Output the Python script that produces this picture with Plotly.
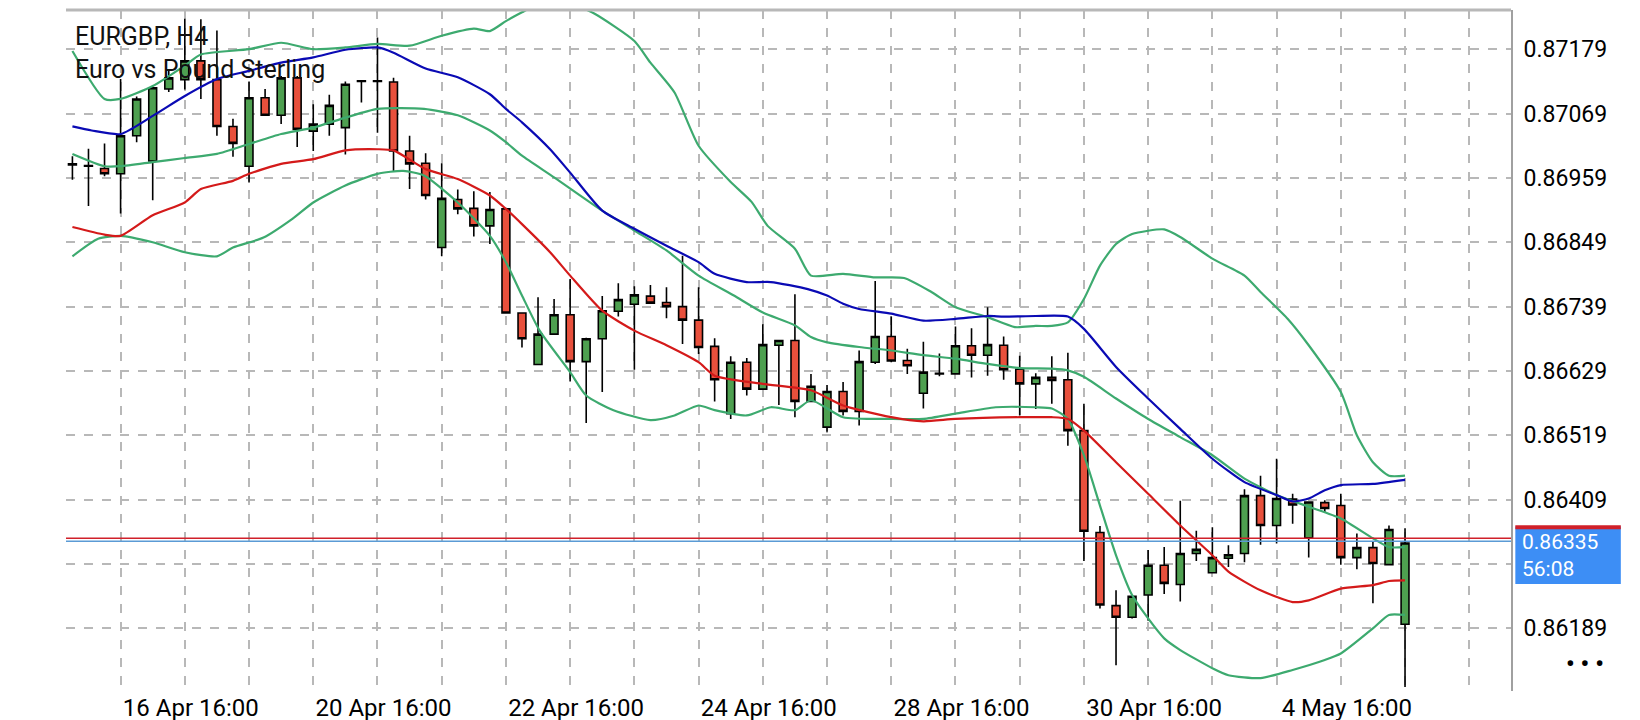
import plotly.graph_objects as go

opens = [0.86983,0.86980,0.86975,0.86966,0.87031,0.86988,0.87111,0.87127,0.87159,0.87127,
0.87047,0.86979,0.87096,0.87066,0.87130,0.87039,0.87051,0.87045,0.87124,0.87124,
0.87123,0.87005,0.86984,0.86840,0.86922,0.86907,0.86877,0.86906,0.86728,0.86640,
0.86692,0.86725,0.86645,0.86684,0.86731,0.86743,0.86757,0.86746,0.86739,0.86716,
0.86671,0.86556,0.86644,0.86598,0.86673,0.86681,0.86577,0.86533,0.86594,0.86560,
0.86644,0.86688,0.86647,0.86591,0.86624,0.86624,0.86672,0.86656,0.86673,0.86632,
0.86607,0.86618,0.86614,0.86527,0.86353,0.86228,0.86208,0.86246,0.86297,0.86264,
0.86317,0.86284,0.86309,0.86317,0.86416,0.86365,0.86410,0.86344,0.86404,0.86399,
0.86310,0.86327,0.86298,0.86196]
highs = [0.86996,0.87009,0.87018,0.87128,0.87098,0.87115,0.87142,0.87231,0.87230,0.87211,
0.87060,0.87124,0.87111,0.87133,0.87133,0.87085,0.87101,0.87124,0.87126,0.87199,
0.87130,0.87031,0.87001,0.86984,0.86939,0.86936,0.86935,0.86908,0.86729,0.86755,
0.86752,0.86786,0.86686,0.86757,0.86779,0.86774,0.86776,0.86772,0.86826,0.86772,
0.86685,0.86654,0.86651,0.86709,0.86682,0.86760,0.86624,0.86605,0.86610,0.86664,
0.86783,0.86722,0.86667,0.86679,0.86659,0.86705,0.86702,0.86738,0.86688,0.86655,
0.86625,0.86654,0.86660,0.86573,0.86364,0.86254,0.86246,0.86323,0.86328,0.86407,
0.86356,0.86362,0.86331,0.86427,0.86450,0.86479,0.86419,0.86406,0.86408,0.86419,
0.86351,0.86337,0.86365,0.86360]
lows = [0.86956,0.86911,0.86962,0.86898,0.87020,0.86921,0.87106,0.87110,0.87094,0.87031,
0.86995,0.86951,0.87066,0.87051,0.87012,0.87005,0.87031,0.86999,0.87088,0.87036,
0.86970,0.86940,0.86922,0.86825,0.86897,0.86859,0.86846,0.86727,0.86669,0.86639,
0.86691,0.86611,0.86540,0.86593,0.86722,0.86631,0.86744,0.86719,0.86675,0.86658,
0.86577,0.86547,0.86587,0.86597,0.86571,0.86550,0.86576,0.86525,0.86553,0.86536,
0.86641,0.86644,0.86624,0.86565,0.86620,0.86623,0.86618,0.86621,0.86614,0.86553,
0.86564,0.86573,0.86501,0.86304,0.86223,0.86126,0.86206,0.86202,0.86248,0.86235,
0.86304,0.86283,0.86294,0.86302,0.86332,0.86334,0.86368,0.86310,0.86388,0.86298,
0.86290,0.86232,0.86298,0.86089]
closes = [0.86981,0.86979,0.86966,0.87031,0.87094,0.87113,0.87130,0.87159,0.87127,0.87047,
0.87018,0.87096,0.87066,0.87130,0.87042,0.87051,0.87083,0.87119,0.87125,0.87125,
0.87005,0.86983,0.86929,0.86924,0.86906,0.86877,0.86905,0.86728,0.86684,0.86692,
0.86725,0.86645,0.86684,0.86732,0.86751,0.86759,0.86745,0.86739,0.86716,0.86669,
0.86614,0.86644,0.86598,0.86674,0.86681,0.86577,0.86603,0.86594,0.86560,0.86645,
0.86688,0.86646,0.86638,0.86627,0.86625,0.86672,0.86656,0.86674,0.86631,0.86607,
0.86618,0.86613,0.86527,0.86355,0.86229,0.86208,0.86244,0.86297,0.86266,0.86317,
0.86324,0.86310,0.86315,0.86416,0.86365,0.86411,0.86400,0.86405,0.86394,0.86310,
0.86327,0.86300,0.86358,0.86335]
bars = list(range(len(opens)))

# indicator lines (bar index, price)
blue_x = [0,1.2,3,5,7,9,11,13,15,17,19,20,22,24,26,27,28,29.75,31,33,35,37,39,40,42,43.5,45.8,47,48,49,51,53,55,57,58,60,62,63,65,67,69,71,73,75,76,77,78,79,81,83]
blue_y = [0.87047,0.87040,0.87034,0.87065,0.87099,0.87128,0.87142,0.87156,0.87165,0.87178,0.87182,0.87173,0.87146,0.87131,0.87102,0.87077,0.87054,0.87008,0.86968,0.86903,0.86872,0.86843,0.86815,0.86795,0.86781,0.86781,0.86769,0.86758,0.86744,0.86735,0.86727,0.86715,0.86718,0.86723,0.86722,0.86723,0.86722,0.86701,0.86636,0.86582,0.86530,0.86479,0.86439,0.86417,0.86406,0.86411,0.86425,0.86434,0.86436,0.86443]
red_x = [0,2,3,5,7,8,10,11,13,15,17,19,20,22,24,26,27,28,29.75,31,33,35,37,39,40,43,46,48,51,53,55,59,61,62,63,65,67,69,71,72,74,76,77,79,81,82,83]
red_y = [0.86875,0.86862,0.86860,0.86895,0.86917,0.86940,0.86954,0.86966,0.86983,0.86991,0.87006,0.87008,0.87006,0.86974,0.86957,0.86929,0.86906,0.86880,0.86832,0.86792,0.86732,0.86698,0.86673,0.86644,0.86621,0.86607,0.86596,0.86570,0.86550,0.86543,0.86547,0.86550,0.86550,0.86547,0.86527,0.86473,0.86419,0.86365,0.86314,0.86286,0.86254,0.86234,0.86237,0.86257,0.86263,0.86270,0.86271]
bb_up_x = [0,2,3,5,7,8,11,13,15,17,19,21,23,25,26,27,28,29,30,31,32.5,35,36,37.5,39,41,42.3,43.3,45,46,48,50,51.8,53.5,55,57,58.7,60,61,62,63,64,65,66,68,69,71,73,74,75.7,77,79,80,81,82,83]
bb_up_y = [0.87176,0.87094,0.87094,0.87116,0.87151,0.87170,0.87179,0.87190,0.87179,0.87182,0.87188,0.87185,0.87202,0.87214,0.87210,0.87227,0.87242,0.87256,0.87264,0.87258,0.87240,0.87193,0.87156,0.87105,0.87014,0.86952,0.86918,0.86877,0.86838,0.86792,0.86795,0.86789,0.86788,0.86764,0.86738,0.86721,0.86704,0.86706,0.86706,0.86712,0.86752,0.86809,0.86846,0.86863,0.86871,0.86858,0.86821,0.86792,0.86764,0.86718,0.86673,0.86593,0.86519,0.86473,0.86450,0.86450]
bb_mid_x = [0,2,3,5,7,9,11,13,15,17,19,21.9,24,26,27,28,30,33,35,37,39,41.2,43,45,46,47,49,51,53,55,57,59,61,62,63,65,67,69,71,73,75,77,79,81,82,83]
bb_mid_y = [0.87000,0.86979,0.86979,0.86986,0.86993,0.87000,0.87017,0.87034,0.87045,0.87062,0.87077,0.87077,0.87066,0.87040,0.87020,0.86997,0.86960,0.86903,0.86869,0.86835,0.86792,0.86758,0.86729,0.86707,0.86687,0.86678,0.86670,0.86664,0.86656,0.86650,0.86641,0.86634,0.86633,0.86630,0.86619,0.86582,0.86547,0.86516,0.86485,0.86445,0.86417,0.86397,0.86377,0.86343,0.86328,0.86328]
bb_lo_x = [0,1.6,3,5,7,9,10,11.9,13.7,15,17,19,20.6,21.9,24,26,27,28,29.1,31,32,33.7,36,37.5,39,40,42,43.5,45,46,48,51,53,55,57.5,60,61,62,63,64,65,66,67,68,69,71,72,74,76,78,79,81,82,83]
bb_lo_y = [0.86825,0.86855,0.86860,0.86849,0.86832,0.86825,0.86840,0.86857,0.86889,0.86917,0.86946,0.86966,0.86971,0.86963,0.86917,0.86860,0.86815,0.86758,0.86698,0.86627,0.86587,0.86562,0.86545,0.86553,0.86570,0.86562,0.86553,0.86567,0.86562,0.86579,0.86550,0.86547,0.86547,0.86556,0.86567,0.86567,0.86565,0.86547,0.86485,0.86399,0.86314,0.86246,0.86206,0.86172,0.86152,0.86121,0.86109,0.86104,0.86118,0.86135,0.86146,0.86189,0.86212,0.86212]

ytick_vals = [0.87179,0.87069,0.86959,0.86849,0.86739,0.86629,0.86519,0.86409,0.86299,0.86189]
ytick_text = ["0.87179","0.87069","0.86959","0.86849","0.86739","0.86629","0.86519","0.86409","","0.86189"]
xtick_vals = [7,19,31,43,55,67,79]
xtick_text = ["16 Apr 16:00","20 Apr 16:00","22 Apr 16:00","24 Apr 16:00","28 Apr 16:00","30 Apr 16:00","4 May 16:00"]
bid, ask = 0.86338, 0.86343
last_price_text = "0.86335"
timer_text = "56:08"

GREEN = "#3daa6f"
fig = go.Figure()
fig.add_shape(type="line", xref="paper", yref="y", x0=0, x1=1, y0=bid, y1=bid, line=dict(color="#5b9bd5", width=1.5))
fig.add_shape(type="line", xref="paper", yref="y", x0=0, x1=1, y0=ask, y1=ask, line=dict(color="#d0202a", width=1.5))

for xs, ys, col in [(bb_up_x, bb_up_y, GREEN), (bb_mid_x, bb_mid_y, GREEN), (bb_lo_x, bb_lo_y, GREEN),
                    (red_x, red_y, "#d41a1a"), (blue_x, blue_y, "#0a0ab4")]:
    fig.add_trace(go.Scatter(x=xs, y=ys, mode="lines", line=dict(color=col, width=2.2, shape="spline", smoothing=0.6),
                             hoverinfo="skip", showlegend=False))

fig.add_trace(go.Candlestick(x=bars, open=opens, high=highs, low=lows, close=closes,
    increasing=dict(fillcolor="#4ea050", line=dict(color="black", width=1.6)),
    decreasing=dict(fillcolor="#e8503c", line=dict(color="black", width=1.6)),
    whiskerwidth=0, showlegend=False))

fig.update_layout(
    width=1640, height=720, paper_bgcolor="white", plot_bgcolor="white",
    margin=dict(l=58, r=137, t=2, b=37),
    font=dict(family="Roboto", size=23, color="black"),
    xaxis=dict(range=[-0.4, 89.6], tickvals=xtick_vals, ticktext=xtick_text, showgrid=True,
               gridcolor="#b8b8b8", gridwidth=1.5, griddash="dash", ticks="", zeroline=False,
               rangeslider=dict(visible=False), ticklabelshift=6, tickfont=dict(size=24),
               minor=dict(tick0=3, dtick=4, showgrid=True, gridcolor="#b8b8b8", gridwidth=1.5, griddash="dash")),
    yaxis=dict(range=[0.86082, 0.87246], side="right", tickvals=ytick_vals, ticktext=ytick_text,
               showgrid=True, gridcolor="#b8b8b8", gridwidth=1.5, griddash="dash", zeroline=False,
               showline=True, linecolor="#a0a0a0", linewidth=2, ticks="", ticklabelstandoff=6),
    hovermode=False,
)
fig.add_shape(type="line", xref="paper", yref="paper", x0=0, x1=1, y0=1, y1=1, line=dict(color="#b8b8b8", width=3))
# price box
fig.add_shape(type="rect", xref="paper", yref="paper", x0=1.003, x1=1.076, y0=0.157, y1=0.2416, fillcolor="#3d8ef5", line=dict(width=0))
fig.add_shape(type="rect", xref="paper", yref="paper", x0=1.003, x1=1.076, y0=0.2375, y1=0.2435, fillcolor="#d0202a", line=dict(width=0))
fig.add_annotation(xref="paper", yref="paper", x=1.006, y=0.199, xanchor="left", yanchor="middle", showarrow=False, align="left",
                   text=last_price_text + "<br>" + timer_text, font=dict(color="white", size=21, family="Roboto"))
fig.add_annotation(xref="paper", yref="paper", x=1.051, y=0.04, xanchor="center", yanchor="middle", showarrow=False,
                   text="<b>• • •</b>", font=dict(size=24, color="black"))
fig.add_annotation(xref="paper", yref="paper", x=0.005, y=0.985, xanchor="left", yanchor="top", showarrow=False, align="left",
                   text="EURGBP, H4<br>Euro vs Pound Sterling", font=dict(size=25, color="#111", family="Roboto"))
fig.write_html("out.html")
